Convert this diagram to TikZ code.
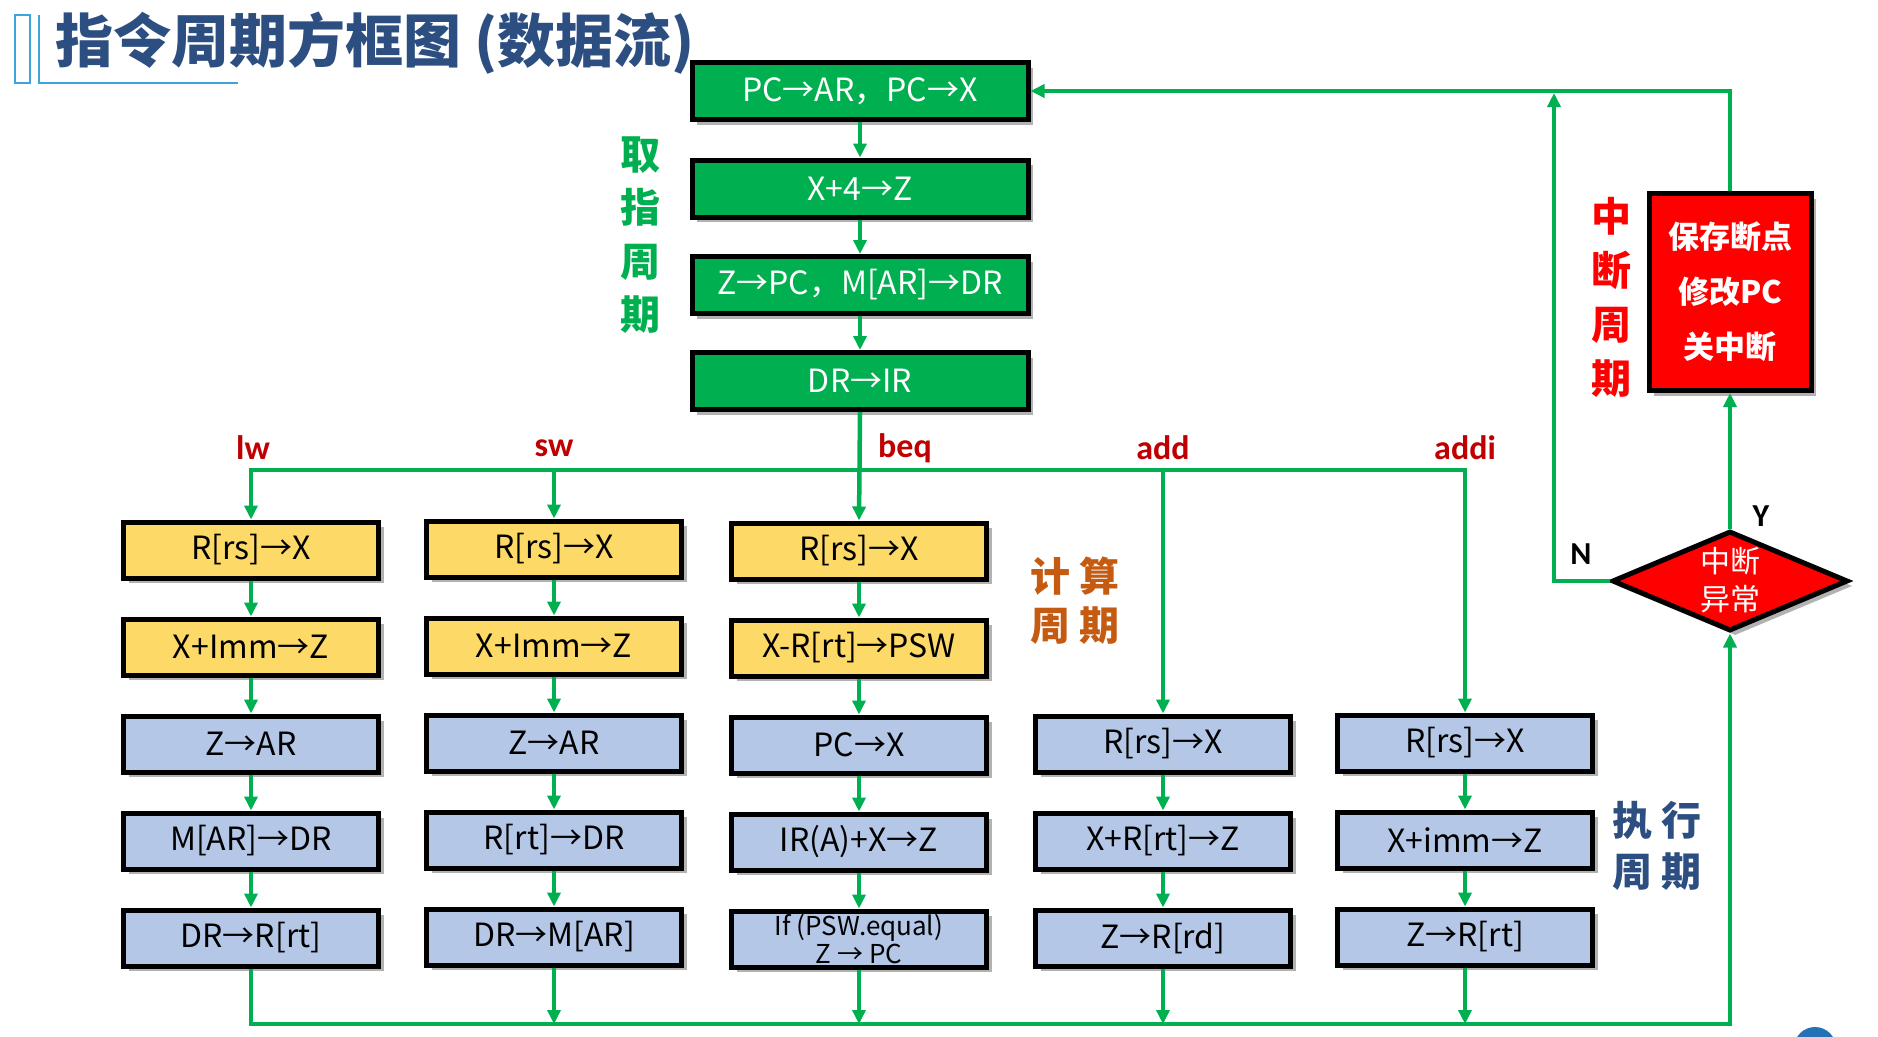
\documentclass[tikz,border=0pt]{standalone}
\usepackage{fontspec}
\setmainfont{Noto Sans CJK SC}
\newfontfamily\calfont{Carlito}
\usetikzlibrary{shapes.geometric,arrows.meta,shadows}
\definecolor{lgreen}{HTML}{00B050}
\definecolor{byellow}{HTML}{FDD967}
\definecolor{bblue}{HTML}{B4C7E7}
\definecolor{lblred}{HTML}{C00000}
\definecolor{calcorange}{HTML}{C55A11}
\definecolor{titleblue}{HTML}{2C4E80}
\definecolor{barblue}{HTML}{3DA5DC}
\definecolor{dotblue}{HTML}{2472B5}
\tikzset{
  shadowed/.style={drop shadow={shadow xshift=5pt, shadow yshift=-5pt, opacity=0.3, fill=black}},
  boxbase/.style={draw=black, line width=5pt, inner sep=0pt, shadowed, align=center},
  gbox/.style={boxbase, fill=lgreen, text=white, minimum width=336pt, minimum height=57pt, font=\fontsize{32}{36}\selectfont},
  ybox/.style={boxbase, fill=byellow, text=black, minimum width=255pt, minimum height=56pt, font=\fontsize{32}{36}\selectfont},
  bbox/.style={boxbase, fill=bblue, text=black, minimum width=255pt, minimum height=56pt, font=\fontsize{32}{36}\selectfont},
  conn/.style={draw=lgreen, line width=4.5pt},
  arr/.style={conn, -{Triangle[length=14pt,width=13pt]}},
  oplabel/.style={text=lblred, font=\calfont\bfseries\fontsize{34}{38}\selectfont},
  vlabel/.style={font=\bfseries\fontsize{40}{53.5}\selectfont, align=center},
  tbar/.style={draw=barblue, line width=2.5pt},
}
\begin{document}
\begin{tikzpicture}[x=1pt,y=-1pt]
\useasboundingbox (0,0) rectangle (1878,1036);
\clip (0,0) rectangle (1878,1036);

% title
\draw[tbar] (15,15) rectangle (30,83);
\draw[tbar] (39,15) -- (39,83) -- (238,83);
\node[anchor=west, text=titleblue, font=\bfseries\fontsize{58}{62}\selectfont, inner sep=0pt] (title) at (55,43) {指令周期方框图 (数据流)};

% fetch cycle
\node[gbox] (G1) at (860,91) {PC→AR，PC→X};
\node[gbox] (G2) at (860,188.5) {X+4→Z};
\node[gbox] (G3) at (860,285) {Z→PC，M[AR]→DR};
\node[gbox] (G4) at (860,381) {DR→IR};
\node[vlabel, text=lgreen] (Lfetch) at (640,235) {取\\指\\周\\期};

% columns
\node[ybox] (lw1) at (251,550) {R[rs]→X};
\node[ybox] (lw2) at (251,647) {X+Imm→Z};
\node[bbox] (lw3) at (251,744) {Z→AR};
\node[bbox] (lw4) at (251,841) {M[AR]→DR};
\node[bbox] (lw5) at (251,938) {DR→R[rt]};

\node[ybox] (sw1) at (554,549) {R[rs]→X};
\node[ybox] (sw2) at (554,646) {X+Imm→Z};
\node[bbox] (sw3) at (554,743) {Z→AR};
\node[bbox] (sw4) at (554,840) {R[rt]→DR};
\node[bbox] (sw5) at (554,937) {DR→M[AR]};

\node[ybox] (beq1) at (859,551) {R[rs]→X};
\node[ybox] (beq2) at (859,648) {X-R[rt]→PSW};
\node[bbox] (beq3) at (859,745) {PC→X};
\node[bbox] (beq4) at (859,842) {IR(A)+X→Z};
\node[bbox, font=\fontsize{26}{28}\selectfont] (beq5) at (859,939) {If (PSW.equal)\\Z → PC};

\node[bbox] (add3) at (1163,744) {R[rs]→X};
\node[bbox] (add4) at (1163,841) {X+R[rt]→Z};
\node[bbox] (add5) at (1163,938) {Z→R[rd]};

\node[bbox] (addi3) at (1465,743) {R[rs]→X};
\node[bbox] (addi4) at (1465,840) {X+imm→Z};
\node[bbox] (addi5) at (1465,937) {Z→R[rt]};

% op labels
\node[oplabel] (Llw) at (253,448) {lw};
\node[oplabel] (Lsw) at (554,448) {sw};
\node[oplabel] (Lbeq) at (905,448) {beq};
\node[oplabel] (Ladd) at (1163,448) {add};
\node[oplabel] (Laddi) at (1465,448) {addi};

% cycle labels
\node[vlabel, text=calcorange, font=\bfseries\fontsize{40}{49}\selectfont] (Lcalc) at (1075,601) {计 算\\周 期};
\node[vlabel, text=titleblue, font=\bfseries\fontsize{40}{51}\selectfont] (Lexec) at (1657,846) {执 行\\周 期};
\node[vlabel, text=red, font=\bfseries\fontsize{40}{54}\selectfont] (Lint) at (1611,297) {中\\断\\周\\期};

% interrupt
\node[boxbase, fill=red, text=white, minimum width=162pt, minimum height=197pt, font=\bfseries\fontsize{31}{55}\selectfont] (R) at (1730,292) {保存断点\\修改PC\\关中断};
\node[diamond, draw=black, line width=5pt, fill=red, inner sep=0pt, aspect=2.3, minimum width=236pt, minimum height=100pt, shadowed] (D) at (1730,581) {};
\node[text=white, align=center, font=\fontsize{30}{38}\selectfont] (Dt) at (1730,580) {中断\\异常};
\node[font=\calfont\bfseries\fontsize{32}{36}\selectfont] (Ny) at (1581,554) {N};
\node[font=\calfont\bfseries\fontsize{32}{36}\selectfont] (Yy) at (1761,516) {Y};

% coordinates
\coordinate (bj) at (860,470);
\coordinate (busL) at (251,470);
\coordinate (busR) at (1465,470);
\coordinate (bl) at (251,1024);
\coordinate (br) at (1730,1024);
\coordinate (nc) at (1554,581);
\coordinate (nt) at (1554,93);

% fetch connectors
\draw[arr] (G1) -- (G2);
\draw[arr] (G2) -- (G3);
\draw[arr] (G3) -- (G4);
\draw[arr] (G4.south) -- (beq1.north);
\draw[arr] (bj) -- (busL) -- (lw1.north);
\draw[arr] (bj) -- (busR) -- (addi3.north);
\draw[arr] (busL -| sw1.north) -- (sw1.north);
\draw[arr] (busL -| add3.north) -- (add3.north);

% column connectors
\foreach \c in {lw,sw,beq}{
  \draw[arr] (\c1) -- (\c2);
  \draw[arr] (\c2) -- (\c3);
}
\foreach \c in {lw,sw,beq,add,addi}{
  \draw[arr] (\c3) -- (\c4);
  \draw[arr] (\c4) -- (\c5);
}
\draw[arr] (lw5.south) -- (bl) -- (br) -- (D.south);
\draw[arr] (sw5.south) -- (sw5.south |- bl);
\draw[arr] (beq5.south) -- (beq5.south |- bl);
\draw[arr] (add5.south) -- (add5.south |- bl);
\draw[arr] (addi5.south) -- (addi5.south |- bl);

% interrupt connectors
\draw[arr] (D.north) -- (R.south);
\draw[arr] (R.north) -- (R.north |- G1.east) -- (G1.east);
\draw[arr] (D.west) -- (nc) -- (nt);

% slide dot
\fill[dotblue] (1815,1048) circle (21);
\end{tikzpicture}
\end{document}
